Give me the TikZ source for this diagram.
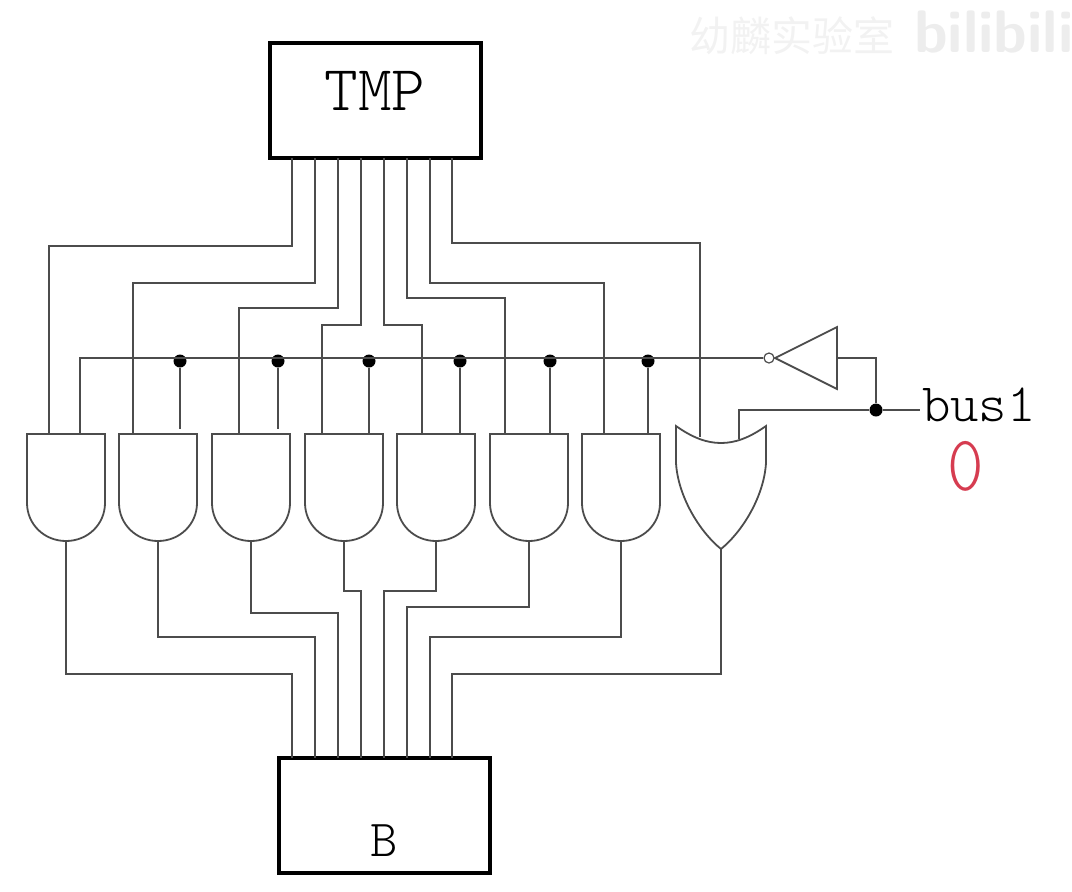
\documentclass[tikz,border=0pt]{standalone}
\usepackage{fontspec}
\setmonofont{Latin Modern Mono Light}
\newfontfamily\cjkfont{Noto Sans CJK SC}
\tikzset{
  wire/.style={draw=black!70,line width=1.8pt},
  regbox/.style={draw=black,line width=3.4pt,minimum width=211pt,minimum height=115pt,inner sep=0pt},
  boxtext/.style={font=\ttfamily\fontsize{64}{64}\selectfont,inner sep=0pt},
  dot/.style={circle,fill=black,inner sep=0pt,minimum size=13pt},
  andgate/.pic={
    \draw [wire] (-39,0) -- (39,0) -- (39,69) .. controls (39,90) and (22,107) .. (0,107)
      .. controls (-22,107) and (-39,90) .. (-39,69) -- cycle;
    \coordinate (-top) at (0,0);
    \coordinate (-out) at (0,107);
  },
  orgate/.pic={
    \draw [wire] (-45,0) .. controls (-28,12) and (-14,17) .. (0,17) .. controls (14,17) and (28,12) .. (45,0)
      -- (45,37) .. controls (43,70) and (22,105) .. (0,123) .. controls (-22,105) and (-43,70) .. (-45,37) -- cycle;
    \coordinate (-out) at (0,123);
  }
}
\begin{document}
\begin{tikzpicture}[x=1pt,y=-1pt]
  \useasboundingbox (0,0) rectangle (1072,892);
  % watermark
  \node (mark) [text=black!5,font=\cjkfont\fontsize{41}{41}\selectfont] at (792,36) {幼麟实验室};
  \node (logo) [text=black!7,font=\sffamily\bfseries\fontsize{60}{60}\selectfont,anchor=west,inner sep=0pt] at (914,32) {bilibili};

  \node (tmp) [regbox] at (375.5,100.5) {};
  \node (tmplabel) [boxtext] at (375,91) {TMP};
  \node (b) [regbox] at (384.5,815.5) {};
  \node (blabel) [boxtext,font=\ttfamily\fontsize{52}{52}\selectfont] at (384,841) {B};

  % and gates
  \foreach \i/\x in {1/66,2/158,3/251,4/344,5/436,6/529,7/621}
  {
    \pic (g\i) at (\x,434) {andgate};
  }
  \pic (g8) at (721,426) {orgate};

  % pins on the two boxes
  \foreach \i/\x in {1/292,2/315,3/338,4/361,5/384,6/407,7/430,8/452}
  {
    \coordinate (t\i) at (\x,158);
    \coordinate (u\i) at (\x,758);
  }

  % from tmp down to the gates
  \foreach \i/\xa/\ya in {1/49/246,2/133/283,3/239/308,4/322/325,5/422/325,6/505/298,7/604/283}
  {
    \draw [wire] (t\i) |- (\xa,\ya) -- (\xa,0 |- g\i-top);
  }
  \draw [wire] (t8) |- (700,243) -- (700,437);

  % from the gates down to b
  \foreach \i/\ya in {1/674,2/637,3/613,4/591,5/591,6/607,7/637,8/674}
  {
    \draw [wire] (g\i-out) |- (u\i |- 0,\ya) -- (u\i);
  }

  % control line
  \node (bubble) [circle,draw=black!70,line width=1.2pt,inner sep=0pt,minimum size=10pt] at (769,358) {};
  \coordinate (inv) at (837,358);
  \draw [wire] (775,358) -- (837,327) -- (837,389) -- cycle;
  \foreach \i/\x in {2/180,3/278,4/369,5/460,6/550,7/648}
  {
    \node (d\i) [dot] at (\x,361) {};
  }
  \draw [wire] (bubble) -- (80,358) -- (80,0 |- g1-top);
  \draw [wire] (d2) -- ([yshift=5pt]d2 |- g2-top);
  \draw [wire] (d3) -- ([yshift=5pt]d3 |- g3-top);
  \foreach \i in {4,...,7}
  {
    \draw [wire] (d\i) -- (d\i |- g\i-top);
  }

  % bus1
  \node (bus) [anchor=west,font=\ttfamily\fontsize{54}{54}\selectfont,inner sep=0pt] at (922,405) {bus1};
  \node (join) [dot] at (876,410) {};
  \node (val) [text={rgb,255:red,214;green,60;blue,80},font=\ttfamily\fontsize{79}{79}\selectfont,xscale=0.88] at (966,466) {0};
  \draw [wire] (inv) -| (join);
  \draw [wire] (739,439) |- (join);
  \draw [wire] (join) -- (920,410);
\end{tikzpicture}
\end{document}
